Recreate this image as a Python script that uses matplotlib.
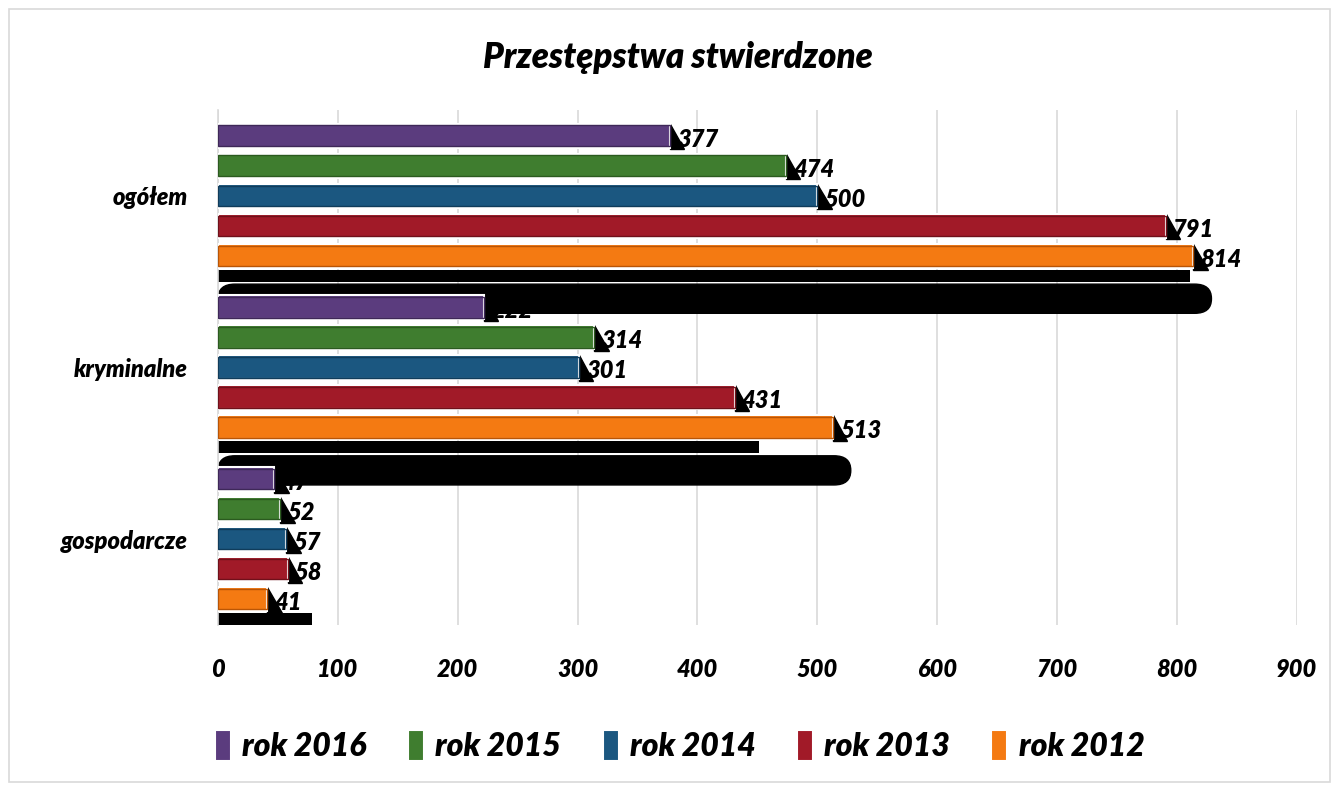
import numpy as np
import matplotlib.pyplot as plt
from matplotlib.patches import FancyBboxPatch, Rectangle, Polygon

categories = ["ogółem", "kryminalne", "gospodarcze"]
years = ["rok 2016", "rok 2015", "rok 2014", "rok 2013", "rok 2012"]
values = {
    "rok 2016": [377, 222, 47],
    "rok 2015": [474, 314, 52],
    "rok 2014": [500, 301, 57],
    "rok 2013": [791, 431, 58],
    "rok 2012": [814, 513, 41],
}
colors = ["#5b3c7e", "#3f7d2f", "#1b5780", "#a11a28", "#f47a12"]
edges = ["#3e2858", "#2b5a1f", "#103c5b", "#70101a", "#b95506"]

plt.rcParams['font.family'] = ['Lato', 'DejaVu Sans']
txt = dict(fontweight="heavy", fontstyle="italic")

fig = plt.figure(figsize=(13.38, 7.85), dpi=100)
ax = fig.add_axes([0.163, 0.204, 0.806, 0.656])

y = np.arange(len(categories))
step = 0.175
h = 0.14

# black shadow blobs under each group (artefact of the original rendering)
for i, cat in enumerate(categories):
    vals = [values[k][i] for k in years]
    top = y[i] + 2 * step + h / 2
    ax.barh(top + 0.045, vals[-2] + 20, height=0.07, left=0, color="black", zorder=1)
    blob = FancyBboxPatch((0, top + 0.095), max(vals) + 15, 0.17,
                          boxstyle="round,pad=0,rounding_size=14", mutation_aspect=0.006,
                          color="black", zorder=1)
    ax.add_patch(blob)

for j, yr in enumerate(years):
    pos = y + (j - 2) * step
    ax.barh(pos, values[yr], height=h, color=colors[j], edgecolor="white",
            linewidth=1.5, zorder=3, label=yr)
    ax.barh(pos, values[yr], height=h * 0.85, color="none", edgecolor=edges[j],
            linewidth=1.0, zorder=4)
    for p, v in zip(pos, values[yr]):
        ax.add_patch(Polygon([[v, p - h / 2], [v, p + h / 2 + 0.01], [v + 12, p + h / 2 + 0.01]],
                             closed=True, color="black", zorder=2))
        ax.text(v + 6, p + 0.02, str(v), va="center", ha="left", fontsize=17,
                zorder=5, **txt)

ax.set_xlim(0, 900)
ax.set_ylim(2.5, -0.5)
ax.set_xticks(np.arange(0, 901, 100))
ax.set_yticks(y)
ax.set_yticklabels(categories, fontsize=17, **txt)
for lbl in ax.get_xticklabels():
    lbl.set_fontsize(17)
    lbl.set_fontweight("heavy")
    lbl.set_fontstyle("italic")
ax.tick_params(axis="x", length=0, pad=24)
ax.tick_params(axis="y", length=0, pad=22)
ax.grid(axis="x", color="#d9d9d9", linewidth=1.2, zorder=0)
ax.set_axisbelow(True)
for s in ["top", "right", "bottom"]:
    ax.spines[s].set_visible(False)
ax.spines["left"].set_color("#d9d9d9")
ax.spines["left"].set_linewidth(1.2)

fig.text(0.507, 0.927, "Przestępstwa stwierdzone", ha="center", va="center",
         fontsize=25, **txt)

leg = fig.legend(loc="center", bbox_to_anchor=(0.508, 0.05), ncol=5, frameon=False,
                 handlelength=0.5, handleheight=1.1, handletextpad=0.35, columnspacing=1.3,
                 prop={"size": 23, "weight": "heavy", "style": "italic"})

fig.patches.append(Rectangle((0.007, 0.004), 0.987, 0.984, transform=fig.transFigure,
                             fill=False, edgecolor="#d9d9d9", linewidth=1.2))

fig.savefig("out.png", dpi=100)
